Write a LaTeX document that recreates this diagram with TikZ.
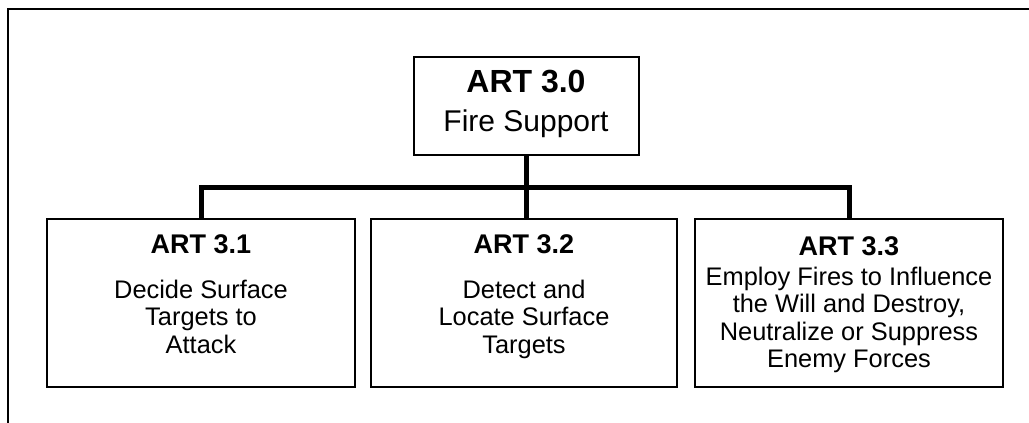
\documentclass[tikz,border=0pt]{standalone}
\usepackage{fontspec}
\setmainfont{Liberation Sans}
\newcommand{\arthead}[1]{{\fontsize{27}{27.5}\bfseries #1}}
\begin{document}
\begin{tikzpicture}[x=1pt,y=-1pt,
    box/.style={draw,line width=2.6pt,minimum width=308pt,minimum height=168pt,inner sep=0pt},
    topbox/.style={draw,line width=2pt,minimum width=225pt,minimum height=98pt,inner sep=0pt},
    txt/.style={anchor=north,align=center,inner sep=0pt,font=\fontsize{25.4}{27.5}\selectfont},
    conn/.style={line width=5pt}]
  \useasboundingbox (0,0) rectangle (1029,423);
  % frame
  \draw[line width=2.8pt] (8,423) -- (8,9) -- (1029,9);
  % boxes
  \node[topbox] (art0) at (526,106) {};
  \node[box] (art1) at (201,303) {};
  \node[box,minimum width=306pt] (art2) at (524,303) {};
  \node[box] (art3) at (849,303) {};
  % texts
  \node[txt,font=\fontsize{30}{39}\selectfont] (t0) at (526,70) {{\fontsize{32}{39}\bfseries ART 3.0}\\Fire Support};
  \node[txt] (t1) at (art1.north |- 0,234) {\arthead{ART 3.1}\\[17.5pt]Decide Surface\\Targets to\\Attack};
  \node[txt] (t2) at (art2.north |- 0,234) {\arthead{ART 3.2}\\[17.5pt]Detect and\\Locate Surface\\Targets};
  \node[txt] (t3) at (art3.north |- 0,236) {\arthead{ART 3.3}\\[2.5pt]Employ Fires to Influence\\the Will and Destroy,\\Neutralize or Suppress\\Enemy Forces};
  % connectors
  \begin{scope}[conn]
    \coordinate (bar) at (526,187);
    \draw (art0.south) -- (art0.south |- art2.north);
    \draw (art1.north) -- (art1.north |- bar) -- (art3.north |- bar) -- (art3.north);
  \end{scope}
\end{tikzpicture}
\end{document}
